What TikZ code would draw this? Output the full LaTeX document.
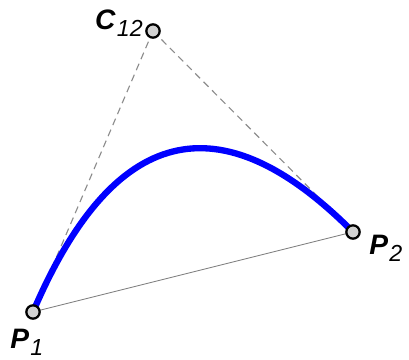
\documentclass[tikz,border=0pt]{standalone}
\usepackage{fontspec}
\setmainfont{Liberation Sans}
\usetikzlibrary{calc}
\newcommand{\ptname}[2]{{\bfseries\itshape #1}\kern1pt\raisebox{-4.5pt}{\fontsize{16.5}{16.5}\selectfont\itshape #2}}
\begin{document}
\begin{tikzpicture}[x=0.025cm, y=0.025cm,
  ctl/.style={circle, draw=black, line width=1.6pt, fill=black!18, inner sep=0pt, minimum size=9.5pt},
  hull/.style={draw=black!45, line width=0.8pt, dash pattern=on 5pt off 3.5pt},
  chord/.style={draw=black!50, line width=0.6pt},
  crv/.style={draw=blue, line width=4.5pt},
  lbl/.style={font=\fontsize{20}{20}\selectfont, inner sep=0pt}]
\useasboundingbox (0,0) rectangle (409,360);
\coordinate (P1) at (33,48);
\coordinate (P2) at (353,128);
\coordinate (C12) at (153,329);
\draw[hull] (P1)--(C12); \draw[hull] (C12)--(P2);
\draw[chord] (P1)--(P2);
\draw[crv] (P1) .. controls ($(P1)!2/3!(C12)$) and ($(P2)!2/3!(C12)$) .. (P2);
\node[ctl] (p1) at (P1) {};
\node[ctl] (p2) at (P2) {};
\node[ctl] (c12) at (C12) {};
\node[lbl, anchor=base east] (lc12) at (143,330) {\ptname{C}{12}};
\node[lbl, anchor=base west] (lp1) at (10,11) {\ptname{P}{1}};
\node[lbl, anchor=base west] (lp2) at (369,105) {\ptname{P}{2}};
\end{tikzpicture}
\end{document}
